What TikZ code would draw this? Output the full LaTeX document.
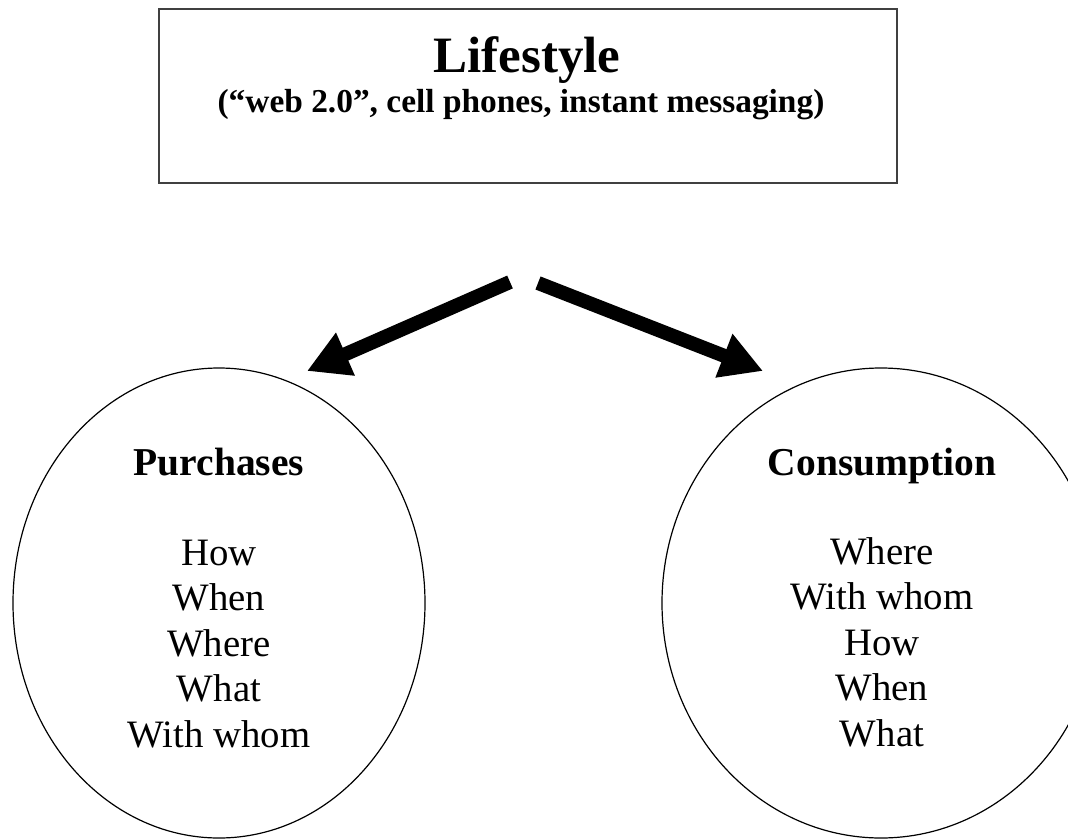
\documentclass[tikz,border=0pt]{standalone}
\usepackage{fontspec}
\setmainfont{Liberation Serif}
\usepackage{tikz}
\usetikzlibrary{arrows.meta,shapes.geometric}
\tikzset{
	bubble/.style={draw, ellipse, line width=1.2pt, inner sep=0pt, minimum width=412pt, minimum height=470pt},
	headbox/.style={draw=black!75, line width=1.8pt, inner sep=0pt, minimum width=738pt, minimum height=174pt},
	bubtitle/.style={inner sep=0pt, anchor=base, font=\fontsize{39.5}{44}\selectfont\bfseries},
	bublist/.style={inner sep=0pt, anchor=base, align=center, font=\fontsize{38.8}{45.5}\selectfont},
	bigarrow/.style={line width=14pt, -{Triangle[length=42pt,width=44pt]}}
}
\begin{document}
\begin{tikzpicture}[x=1pt, y=-1pt]
			\clip (0,0) rectangle (1068,838);
			\node[headbox] (life) at (528,96) {};
			\node[inner sep=0pt, anchor=base, font=\fontsize{51}{55}\selectfont\bfseries] (lifeT) at (527,72) {Lifestyle};
			\node[inner sep=0pt, anchor=base, font=\fontsize{33.4}{37}\selectfont\bfseries] (lifeS) at (521,112) {(``web 2.0'', cell phones, instant messaging)};
			\node[bubble] (purch) at (219,603) {};
			\node[bubtitle] (purchT) at (219,475) {Purchases};
			% the base of a multi-line node is its last line
			\node[bublist] (purchL) at (219,747) {How\\When\\Where\\What\\With whom};
			\node[bubble, minimum width=438pt] (cons) at (881,603) {};
			\node[bubtitle] (consT) at (882,475) {Consumption};
			\node[bublist] (consL) at (882,746) {Where\\With whom\\How\\When\\What};
			\coordinate (ltail) at (510,282);
			\coordinate (ltip) at (307,371);
			\coordinate (rtail) at (538,283);
			\coordinate (rtip) at (763,371);
			\path[bigarrow]
			(ltail) edge (ltip)
			(rtail) edge (rtip);
		\end{tikzpicture}
\end{document}
